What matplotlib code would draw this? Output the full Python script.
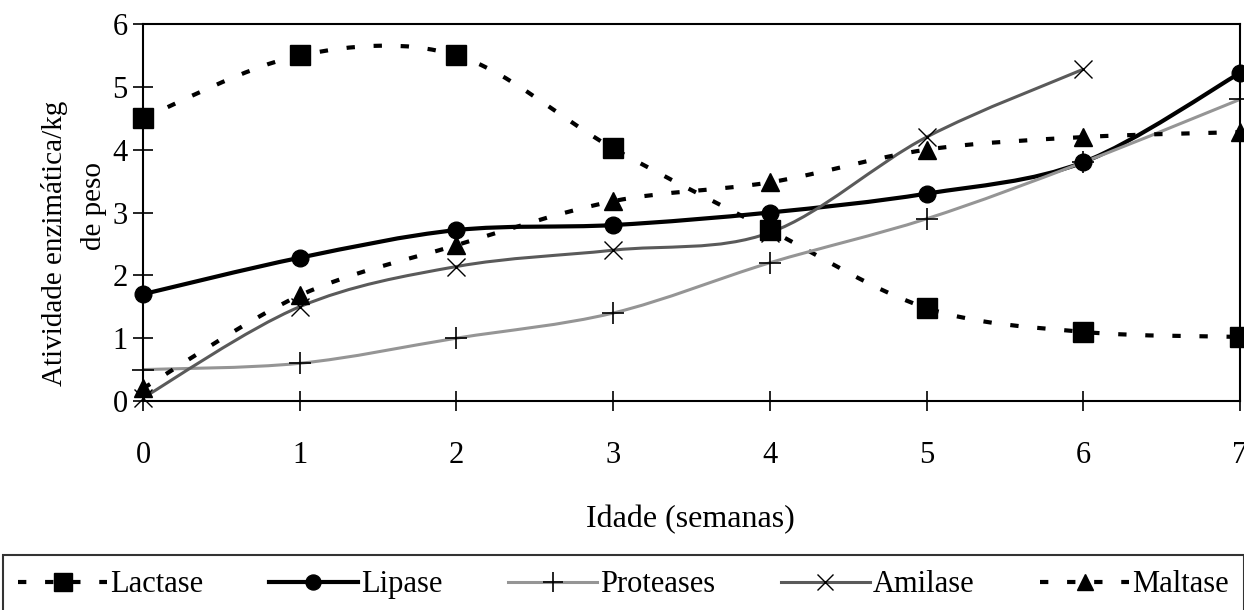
import numpy as np
import matplotlib
matplotlib.use("Agg")
import matplotlib.pyplot as plt
from matplotlib.path import Path
from matplotlib.patches import PathPatch
from matplotlib.lines import Line2D

plt.rcParams['font.family'] = ['Liberation Serif', 'DejaVu Serif']

weeks = [0, 1, 2, 3, 4, 5, 6, 7]
lactase = [4.5, 5.5, 5.5, 4.02, 2.72, 1.48, 1.1, 1.02]
lipase = [1.7, 2.28, 2.72, 2.8, 3.0, 3.3, 3.8, 5.22]
proteases = [0.5, 0.6, 1.0, 1.4, 2.2, 2.9, 3.8, 4.8]
amilase_weeks = [0, 1, 2, 3, 4, 5, 6]
amilase = [0.05, 1.5, 2.14, 2.4, 2.68, 4.2, 5.28]
maltase = [0.2, 1.68, 2.48, 3.18, 3.48, 4.0, 4.2, 4.28]

names = ["Lactase", "Lipase", "Proteases", "Amilase", "Maltase"]

fig = plt.figure(figsize=(12.44, 6.10), dpi=100)
ax = fig.add_axes([143/1244, 1-401/610, (1240-143)/1244, (401-24)/610])


def smooth_path(xs, ys):
    P = np.column_stack([xs, ys]).astype(float)
    n = len(P)
    verts = [P[0]]
    codes = [Path.MOVETO]
    for i in range(n - 1):
        p0 = P[i - 1] if i > 0 else P[i]
        p1 = P[i]
        p2 = P[i + 1]
        p3 = P[i + 2] if i + 2 < n else P[i + 1]
        c1 = p1 + (p2 - p0) / 6.0
        c2 = p2 - (p3 - p1) / 6.0
        verts += [c1, c2, p2]
        codes += [Path.CURVE4] * 3
    return Path(verts, codes)


styles = {
    "Lactase": dict(color="black", lw=3.0, ls=(0, (2.0, 4.5)), marker="s", ms=14, mew=1),
    "Lipase": dict(color="black", lw=3.0, ls="-", marker="o", ms=12, mew=1),
    "Proteases": dict(color="#959595", lw=2.2, ls="-", marker="+", ms=16, mew=1.2),
    "Amilase": dict(color="#5a5a5a", lw=2.2, ls="-", marker="x", ms=13, mew=1.0),
    "Maltase": dict(color="black", lw=3.0, ls=(0, (2.0, 4.5)), marker="^", ms=13, mew=1),
}
data = {
    "Lactase": (weeks, lactase),
    "Lipase": (weeks, lipase),
    "Proteases": (weeks, proteases),
    "Amilase": (amilase_weeks, amilase),
    "Maltase": (weeks, maltase),
}

handles = []
for name in names:
    xs, ys = data[name]
    st = styles[name]
    patch = PathPatch(smooth_path(xs, ys), facecolor="none", edgecolor=st["color"],
                      lw=st["lw"], linestyle=st["ls"], transform=ax.transData,
                      clip_on=False, zorder=2)
    ax.add_patch(patch)
    mcol = "black"
    ax.plot(xs, ys, ls="none", marker=st["marker"], ms=st["ms"], color=mcol,
            mec=mcol, mew=st["mew"] if st["marker"] in "+x" else 1, clip_on=False, zorder=3)
    handles.append(Line2D([], [], color=st["color"], lw=st["lw"], ls=st["ls"],
                          marker=st["marker"], ms=st["ms"] * 0.9, mfc=mcol, mec=mcol,
                          mew=st["mew"]))

ax.set_xlim(0, 7)
ax.set_ylim(0, 6)
ax.set_xticks(range(0, 8))
ax.set_yticks(range(0, 7))
ax.tick_params(direction="inout", length=14, width=1.2, labelsize=22)
ax.tick_params(axis="x", pad=22)
ax.tick_params(axis="y", pad=4)
for s in ax.spines.values():
    s.set_linewidth(1.5)
    s.set_color("black")

fig.text(690/1244, 1-520/610, "Idade (semanas)", fontsize=23, ha="center", va="center")

fig.text(55/1244, 1-386/610, "Atividade enzimática/kg", rotation=90, fontsize=21,
         ha="center", va="bottom")
fig.text(94/1244, 1-206/610, "de peso", rotation=90, fontsize=21, ha="center", va="center")

leg = fig.legend(handles, names, loc="upper left", ncol=5,
                 bbox_to_anchor=(3/1244, 1-555/610, 1-3/1244, 0.0),
                 mode="expand", fontsize=22, frameon=True, fancybox=False,
                 edgecolor="black", handlelength=2.9, handletextpad=0.1,
                 columnspacing=0.2, borderpad=0.5, borderaxespad=0)
leg.get_frame().set_linewidth(1.5)

fig.savefig("out.png", dpi=100, facecolor="white")
